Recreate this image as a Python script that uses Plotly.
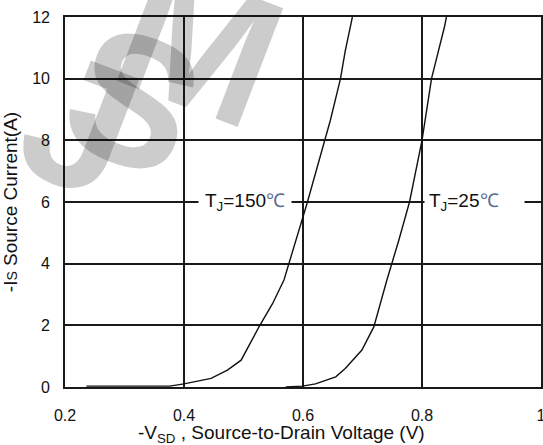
import plotly.graph_objects as go

# Data
v_150 = [0.236, 0.30, 0.376, 0.40, 0.4455, 0.473, 0.496, 0.526, 0.549, 0.568, 0.588, 0.607, 0.646, 0.663, 0.671, 0.683]
i_150 = [0.03, 0.03, 0.03, 0.10, 0.28, 0.55, 0.87, 1.95, 2.71, 3.47, 4.77, 5.97, 8.65, 10.0, 10.9, 12.0]

v_25 = [0.571, 0.599, 0.621, 0.655, 0.671, 0.699, 0.719, 0.741, 0.761, 0.779, 0.800, 0.816, 0.838, 0.841]
i_25 = [0.0, 0.03, 0.10, 0.33, 0.60, 1.20, 1.95, 3.47, 4.76, 6.0, 8.0, 10.0, 11.7, 12.0]

x_ticks = [0.2, 0.4, 0.6, 0.8, 1.0]
x_ticktext = ["0.2", "0.4", "0.6", "0.8", "1"]
y_ticks = [0, 2, 4, 6, 8, 10, 12]

watermark_letters = ["J", "S", "M"]

FONT = "Liberation Sans, Arial, sans-serif"
LINE = "#1a1a1a"

fig = go.Figure()
fig.add_trace(go.Scatter(x=v_150, y=i_150, mode="lines", line=dict(color="#111", width=1.4), showlegend=False))
fig.add_trace(go.Scatter(x=v_25, y=i_25, mode="lines", line=dict(color="#111", width=1.4), showlegend=False))

axis_common = dict(showline=True, mirror=True, linecolor=LINE, linewidth=1.6,
                   showgrid=True, gridcolor=LINE, gridwidth=1.5, zeroline=False,
                   ticks="", ticklabeloverflow="allow", automargin=False,
                   tickfont=dict(family=FONT, size=16, color="#111"))

fig.update_xaxes(range=[0.2, 1.0], tickvals=x_ticks, ticktext=x_ticktext,
                 ticklabelstandoff=13, **axis_common)
fig.update_yaxes(range=[0, 12], tickvals=y_ticks, ticklabelstandoff=10,
                 title=dict(text="-I<span style='font-size:14px'>S</span> Source Current(A)",
                            font=dict(family=FONT, size=19, color="#111"), standoff=10),
                 **axis_common)

# plot box in pixels: left 65, right 541, top 17, bottom 387
def px(xp, yp):
    return (xp - 65) / 476, (387 - yp) / 370

annotations = []
for letter, (cx, cy) in zip(watermark_letters, [(80, 124), (133, 100), (200, 44)]):
    ax, ay = px(cx, cy)
    annotations.append(dict(text="<b>" + letter + "</b>", xref="paper", yref="paper", x=ax, y=ay,
                            xanchor="center", yanchor="middle", showarrow=False, textangle=21,
                            font=dict(family="Liberation Sans Narrow, Liberation Sans, Arial", size=185,
                                      color="rgba(0,0,0,0.2)")))

annotations += [
    # curve labels
    dict(text="T<sub>J</sub>=150<span style='color:#5b6e91'>℃</span>", x=0.503, y=6, xref="x", yref="y",
         xanchor="center", yanchor="middle",
         showarrow=False, bgcolor="white", borderpad=6,
         font=dict(family=FONT, size=19, color="#111")),
    dict(text="T<sub>J</sub>=25<span style='color:#5b6e91'>℃</span>&nbsp;&nbsp;&nbsp;&nbsp;", x=0.8, y=6,
         xref="x", yref="y", xanchor="left", yanchor="middle", xshift=2,
         showarrow=False, bgcolor="white", borderpad=4,
         font=dict(family=FONT, size=19, color="#111")),
    # x-axis title
    dict(text="-V<sub>SD</sub> , Source-to-Drain Voltage (V)", xref="paper", yref="paper",
         x=px(281, 0)[0], y=-(434 - 387) / 370, xanchor="center", yanchor="middle", showarrow=False,
         font=dict(family=FONT, size=19, color="#111")),
]

fig.update_layout(width=543, height=445, margin=dict(l=65, r=2, t=17, b=58, autoexpand=False),
                  plot_bgcolor="white", paper_bgcolor="white", annotations=annotations,
                  font=dict(family=FONT))

fig.write_html("out.html")
